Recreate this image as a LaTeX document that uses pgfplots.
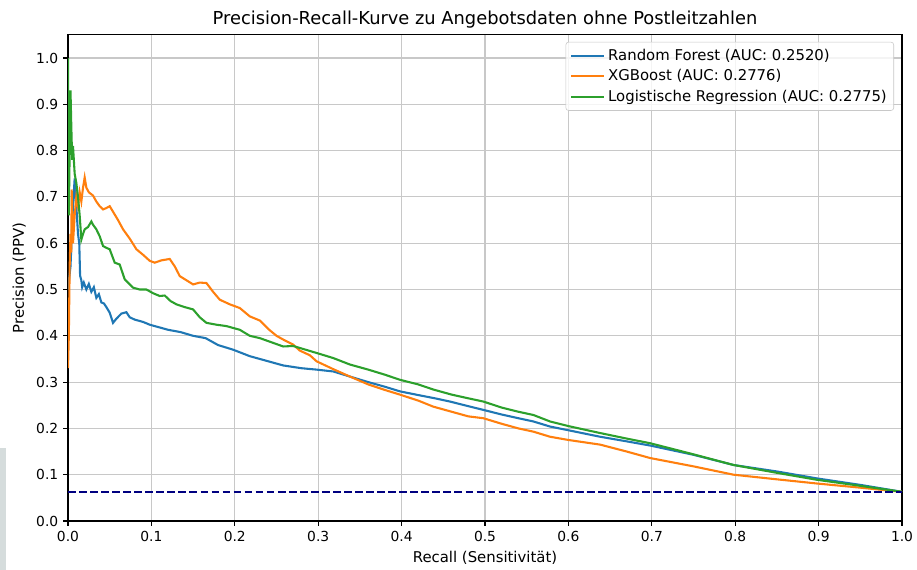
\documentclass[border=0pt]{standalone}
\usepackage{pgfplots}
\pgfplotsset{compat=1.18}
\usepackage{pgfplotstable}
\usepackage{fontspec}
\setmainfont{DejaVu Sans}
\definecolor{tabblue}{HTML}{1F77B4}
\definecolor{taborange}{HTML}{FF7F0E}
\definecolor{tabgreen}{HTML}{2CA02C}
\definecolor{navyc}{HTML}{000080}
\definecolor{gridc}{HTML}{C8C8C8}
\definecolor{stripc}{HTML}{D5DCDC}

\pgfplotstableread{
r p
0.000 0.50
0.003 0.55
0.006 0.68
0.008 0.74
0.010 0.68
0.012 0.62
0.0135 0.60
0.0145 0.53
0.016 0.52
0.017 0.505
0.019 0.515
0.022 0.50
0.025 0.512
0.028 0.495
0.031 0.505
0.034 0.482
0.037 0.49
0.040 0.472
0.043 0.47
0.046 0.462
0.050 0.45
0.054 0.428
0.058 0.437
0.064 0.448
0.070 0.451
0.074 0.440
0.080 0.435
0.090 0.430
0.098 0.424
0.110 0.418
0.120 0.413
0.135 0.408
0.150 0.400
0.165 0.395
0.180 0.380
0.198 0.370
0.218 0.356
0.240 0.345
0.258 0.336
0.280 0.330
0.298 0.327
0.318 0.323
0.338 0.312
0.360 0.300
0.380 0.290
0.398 0.280
0.420 0.272
0.440 0.265
0.458 0.258
0.480 0.248
0.498 0.240
0.520 0.230
0.540 0.222
0.558 0.215
0.578 0.204
0.600 0.196
0.638 0.182
0.670 0.172
0.698 0.163
0.750 0.143
0.798 0.121
0.850 0.107
0.898 0.092
0.950 0.078
1.000 0.063
}\rf

\pgfplotstableread{
r p
0.000 0.33
0.001 0.40
0.002 0.55
0.003 0.62
0.004 0.58
0.0044 0.716
0.006 0.60
0.008 0.66
0.010 0.70
0.012 0.68
0.014 0.71
0.016 0.69
0.018 0.72
0.020 0.742
0.022 0.72
0.025 0.71
0.030 0.703
0.034 0.69
0.038 0.68
0.042 0.673
0.046 0.676
0.050 0.680
0.055 0.665
0.060 0.650
0.066 0.630
0.074 0.610
0.082 0.587
0.090 0.575
0.098 0.562
0.104 0.558
0.112 0.563
0.122 0.566
0.128 0.550
0.134 0.529
0.142 0.520
0.150 0.511
0.158 0.515
0.166 0.514
0.174 0.495
0.182 0.478
0.194 0.468
0.206 0.460
0.218 0.442
0.230 0.433
0.240 0.415
0.250 0.400
0.260 0.390
0.270 0.381
0.278 0.368
0.290 0.358
0.298 0.345
0.318 0.328
0.338 0.312
0.360 0.295
0.380 0.283
0.398 0.273
0.420 0.260
0.438 0.247
0.460 0.236
0.480 0.226
0.498 0.222
0.520 0.210
0.540 0.200
0.558 0.193
0.578 0.182
0.600 0.175
0.638 0.165
0.670 0.150
0.698 0.136
0.750 0.118
0.798 0.100
0.850 0.090
0.898 0.081
0.950 0.072
1.000 0.063
}\xgb

\pgfplotstableread{
r p
0.000 1.00
0.001 0.66
0.002 0.80
0.003 0.93
0.004 0.85
0.005 0.78
0.006 0.81
0.008 0.75
0.010 0.73
0.012 0.70
0.014 0.66
0.016 0.608
0.018 0.62
0.020 0.63
0.024 0.635
0.028 0.647
0.030 0.64
0.034 0.63
0.038 0.615
0.042 0.594
0.046 0.590
0.050 0.587
0.056 0.558
0.062 0.554
0.068 0.522
0.078 0.504
0.086 0.500
0.094 0.500
0.102 0.492
0.110 0.486
0.116 0.487
0.123 0.475
0.130 0.468
0.140 0.462
0.150 0.457
0.158 0.440
0.166 0.428
0.178 0.424
0.190 0.421
0.206 0.413
0.218 0.400
0.230 0.395
0.258 0.377
0.270 0.378
0.298 0.363
0.318 0.352
0.338 0.338
0.360 0.327
0.380 0.316
0.398 0.305
0.420 0.295
0.438 0.284
0.460 0.273
0.480 0.265
0.498 0.258
0.520 0.245
0.540 0.236
0.558 0.229
0.578 0.215
0.600 0.205
0.638 0.190
0.670 0.178
0.698 0.168
0.750 0.144
0.798 0.121
0.850 0.104
0.898 0.089
0.950 0.076
1.000 0.063
}\lr

\begin{document}
\begin{tikzpicture}
\useasboundingbox (-48.96bp,-35.28bp) rectangle (611.28bp,375.12bp);
\fill[stripc] (-48.96bp,-35.28bp) rectangle (-44.64bp,52.56bp);
\begin{axis}[
  at={(0,0)}, anchor=south west,
  scale only axis, width=600.48bp, height=350bp,
  xmin=0, xmax=1, ymin=0, ymax=1.05,
  xtick={0,0.1,0.2,0.3,0.4,0.5,0.6,0.7,0.8,0.9,1.0},
  ytick={0,0.1,0.2,0.3,0.4,0.5,0.6,0.7,0.8,0.9,1.0},
  /pgf/number format/.cd, fixed, fixed zerofill, precision=1, assume math mode=true, /pgfplots/.cd,
  tick label style={font=\fontsize{10}{12}\selectfont},
  tick align=outside, major tick length=3.5bp,
  every tick/.style={black, line width=0.8bp},
  xtick pos=bottom, ytick pos=left,
  axis line style={line width=0.8bp},
  grid=major, major grid style={gridc, line width=0.8bp},
  title={Precision-Recall-Kurve zu Angebotsdaten ohne Postleitzahlen},
  title style={at={(axis description cs:0.5,1.0)}, anchor=base, yshift=1.2bp, inner sep=0pt, font=\fontsize{12.9}{15}\selectfont},
  xlabel={Recall (Sensitivität)},
  xlabel style={at={(axis description cs:0.5,-0.086)}, anchor=base, inner sep=0pt, font=\fontsize{10.75}{13}\selectfont},
  ylabel={Precision (PPV)},
  ylabel style={at={(axis description cs:-0.0528,0.5)}, anchor=base, inner sep=0pt, font=\fontsize{10.75}{13}\selectfont},
  legend cell align=left,
  legend image code/.code={\draw[#1] (0bp,0bp) -- (24bp,0bp);},
  legend style={at={(axis description cs:1,1)}, anchor=north east, xshift=-5.76bp, yshift=-5bp,
    draw=gridc, rounded corners=2bp, fill=white, fill opacity=0.8, text opacity=1,
    font=\fontsize{10.75}{13}\selectfont, row sep=1.2bp, inner sep=3bp},
]
\addplot[tabblue, line width=1.5bp] table[x=r, y=p] {\rf};
\addlegendentry{Random Forest (AUC: 0.2520)}
\addplot[taborange, line width=1.5bp] table[x=r, y=p] {\xgb};
\addlegendentry{XGBoost (AUC: 0.2776)}
\addplot[tabgreen, line width=1.5bp] table[x=r, y=p] {\lr};
\addlegendentry{Logistische Regression (AUC: 0.2775)}
\addplot[navyc, line width=1.6bp, dash pattern=on 5.55bp off 2.4bp, forget plot] coordinates {(0,0.063) (1,0.063)};
\end{axis}
\end{tikzpicture}
\end{document}
